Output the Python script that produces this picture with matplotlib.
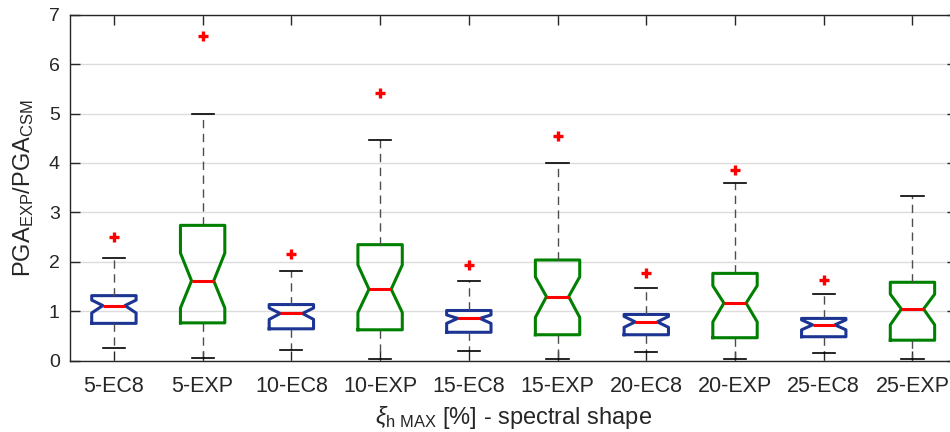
import matplotlib
matplotlib.use("Agg")
import matplotlib.pyplot as plt

base_font = "Liberation Sans"
plt.rcParams["font.family"] = [base_font, "DejaVu Sans"]
plt.rcParams["mathtext.fontset"] = "custom"
plt.rcParams["mathtext.rm"] = base_font
plt.rcParams["mathtext.it"] = base_font + ":italic"
plt.rcParams["mathtext.sf"] = base_font

# Categories (damping level - spectral shape)
categories = ["5-EC8", "5-EXP", "10-EC8", "10-EXP", "15-EC8",
              "15-EXP", "20-EC8", "20-EXP", "25-EC8", "25-EXP"]

# Box statistics of PGA_EXP / PGA_CSM
whisker_low = [0.26, 0.07, 0.22, 0.05, 0.20, 0.04, 0.18, 0.03, 0.17, 0.03]
q1          = [0.76, 0.77, 0.65, 0.63, 0.58, 0.53, 0.53, 0.47, 0.49, 0.42]
median      = [1.12, 1.62, 0.96, 1.45, 0.86, 1.30, 0.79, 1.17, 0.73, 1.05]
q3          = [1.32, 2.74, 1.14, 2.35, 1.02, 2.04, 0.94, 1.77, 0.86, 1.59]
whisker_high = [2.09, 5.00, 1.81, 4.46, 1.62, 3.99, 1.48, 3.60, 1.36, 3.33]
notch_low   = [0.97, 1.07, 0.84, 0.98, 0.76, 0.88, 0.68, 0.79, 0.63, 0.73]
notch_high  = [1.23, 2.18, 1.07, 1.94, 0.93, 1.70, 0.90, 1.52, 0.83, 1.35]
outliers = [[2.51], [6.56], [2.16], [5.41], [1.94],
            [4.54], [1.77], [3.85], [1.64], []]

stats = []
for i, lab in enumerate(categories):
    stats.append(dict(label=lab, whislo=whisker_low[i], q1=q1[i], med=median[i],
                      q3=q3[i], whishi=whisker_high[i], cilo=notch_low[i],
                      cihi=notch_high[i], fliers=outliers[i]))

fig = plt.figure(figsize=(9.5, 4.32), dpi=100)
ax = fig.add_axes([0.0732, 0.1644, 0.934, 0.802])

ax.set_axisbelow(True)
ax.yaxis.grid(True, color="#dcdcdc", linewidth=1.0)

positions = list(range(1, len(categories) + 1))
common = dict(widths=0.5, shownotches=True, manage_ticks=False,
              capwidths=0.25,
              whiskerprops=dict(color="#4d4d4d", linestyle=(0, (6, 4)), linewidth=1.0),
              capprops=dict(color="black", linewidth=1.2),
              medianprops=dict(color="#ff0000", linewidth=2.2, solid_capstyle="butt"),
              flierprops=dict(marker="+", markeredgecolor="#ff0000",
                              markersize=7.5, markeredgewidth=2.4, linestyle="none"))

ec8_idx = [i for i in range(len(categories)) if categories[i].endswith("EC8")]
exp_idx = [i for i in range(len(categories)) if categories[i].endswith("EXP")]

ax.bxp([stats[i] for i in ec8_idx], positions=[positions[i] for i in ec8_idx],
       boxprops=dict(color="#1c3593", linewidth=2.2), **common)
ax.bxp([stats[i] for i in exp_idx], positions=[positions[i] for i in exp_idx],
       boxprops=dict(color="#008000", linewidth=2.2), **common)

ax.set_xlim(0.5, 10.5)
ax.set_ylim(0, 7)
ax.set_xticks(positions)
ax.set_xticklabels(categories)
ax.set_yticks(range(0, 8))

ax.tick_params(direction="in", length=7, width=1.0, colors="#262626",
               top=True, right=True)
ax.tick_params(axis="x", labelsize=15.5, pad=10.5)
ax.tick_params(axis="y", labelsize=14, pad=7)
for s in ax.spines.values():
    s.set_color("#262626")
    s.set_linewidth(1.0)

ax.set_ylabel(r"PGA$_{\mathrm{EXP}}$/PGA$_{\mathrm{CSM}}$", fontsize=17,
              color="#262626", labelpad=9)
ax.set_xlabel(r"$\xi_{\mathrm{h\ MAX}}$ [%] - spectral shape", fontsize=17,
              color="#262626", labelpad=5.5)

fig.savefig("out.png", dpi=100)
